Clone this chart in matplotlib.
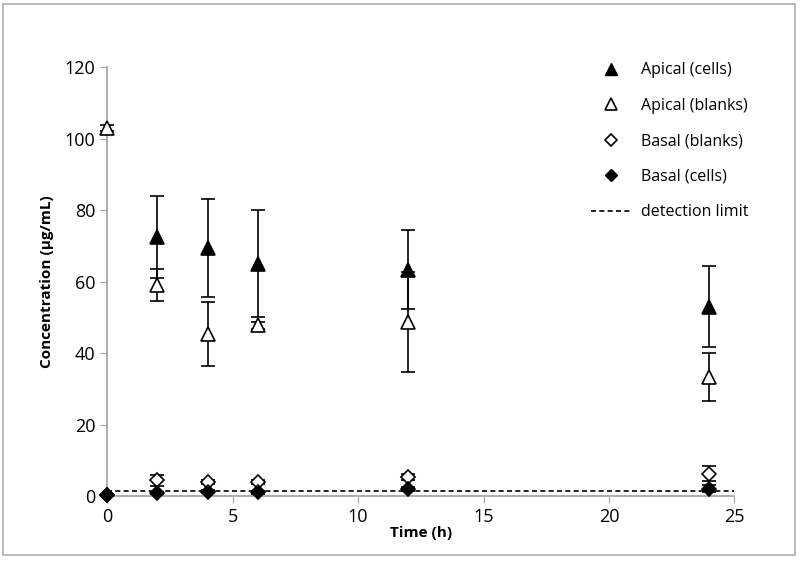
import matplotlib.pyplot as plt
from matplotlib.patches import Rectangle
from matplotlib.lines import Line2D

plt.rcParams['font.family'] = ['Open Sans', 'DejaVu Sans']

# data
t_apical_cells = [2, 4, 6, 12, 24]
apical_cells = [72.4, 69.5, 65.0, 63.4, 53.0]
apical_cells_err = [11.5, 13.7, 15.0, 11.0, 11.3]

t_apical_blanks = [0, 2, 4, 6, 12, 24]
apical_blanks = [103.0, 59.0, 45.3, 47.8, 48.6, 33.2]
apical_blanks_err = [0.8, 4.5, 8.9, 1.0, 14.0, 6.7]

t_basal = [0, 2, 4, 6, 12, 24]
basal_blanks = [0.3, 4.4, 4.0, 4.0, 5.4, 6.3]
basal_blanks_err = [0.2, 1.5, 0.6, 0.5, 0.8, 2.0]
basal_cells = [0.3, 0.8, 1.2, 1.0, 2.0, 2.0]
basal_cells_err = [0.1, 0.3, 0.4, 0.3, 0.5, 1.0]

detection_limit = 1.4

fig = plt.figure(figsize=(8, 5.65), dpi=100)
ax = fig.add_axes([0.134, 0.122, 0.784, 0.759])

fig.patches.append(Rectangle((0.004, 0.018), 0.99, 0.975, transform=fig.transFigure,
                             fill=False, edgecolor='#b0b0b0', linewidth=1.2))

ax.axhline(detection_limit, color='black', linestyle=(0, (3, 2)), linewidth=1.2, zorder=2)

ekw = dict(ecolor='black', elinewidth=1.2, capsize=5, capthick=1.2, linestyle='none')
series = [
    (t_apical_blanks, apical_blanks, apical_blanks_err, '^', 10, 'white', 3),
    (t_apical_cells, apical_cells, apical_cells_err, '^', 10, 'black', 4),
    (t_basal, basal_blanks, basal_blanks_err, 'D', 7, 'white', 3),
    (t_basal, basal_cells, basal_cells_err, 'D', 7, 'black', 4),
]
for tx, vals, errs, mk, ms, fc, z in series:
    cont = ax.errorbar(tx, vals, yerr=errs, marker=mk, ms=ms, mfc=fc, mec='black',
                       mew=1.2, zorder=z, **ekw)
    for art in cont.get_children():
        art.set_clip_on(False)

ax.set_xlim(0, 25)
ax.set_ylim(0, 120)
ax.set_xticks([0, 5, 10, 15, 20, 25])
ax.set_yticks([0, 20, 40, 60, 80, 100, 120])
for s in ['top', 'right']:
    ax.spines[s].set_visible(False)
for s in ['left', 'bottom']:
    ax.spines[s].set_color('#a0a0a0')
    ax.spines[s].set_linewidth(1.2)
ax.tick_params(colors='#a0a0a0', labelcolor='black', labelsize=13, length=5, direction='out')
ax.set_xlabel('Time (h)', fontweight='bold', fontsize=11, labelpad=0)
ax.set_ylabel('Concentration (µg/mL)', fontweight='bold', fontsize=11, labelpad=8)

handles = [
    Line2D([], [], marker='^', ms=8, mfc='black', mec='black', ls='none'),
    Line2D([], [], marker='^', ms=8, mfc='white', mec='black', mew=1.2, ls='none'),
    Line2D([], [], marker='D', ms=6, mfc='white', mec='black', mew=1.2, ls='none'),
    Line2D([], [], marker='D', ms=6, mfc='black', mec='black', ls='none'),
    Line2D([], [], color='black', ls=(0, (3, 2)), lw=1.2),
]
labels = ['Apical (cells)', 'Apical (blanks)', 'Basal (blanks)', 'Basal (cells)', 'detection limit']
ax.legend(handles, labels, loc='upper right', bbox_to_anchor=(1.045, 1.045), frameon=False,
          fontsize=11.5, labelspacing=1.22, handlelength=2.5, handletextpad=0.6)

fig.savefig('out.png', dpi=100)
